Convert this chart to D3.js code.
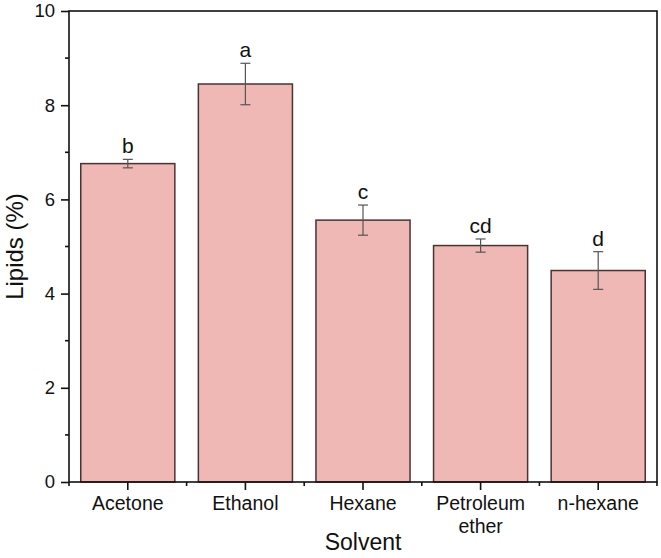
<!DOCTYPE html>
<html>
<head>
<meta charset="utf-8">
<script src="https://cdn.jsdelivr.net/npm/d3@7"></script>
<style>
  body { margin: 0; background: #fff; }
  svg { font-family: "Liberation Sans", Arial, sans-serif; }
</style>
</head>
<body>
<div id="chart"></div>
<script>
const categories = ["Acetone", "Ethanol", "Hexane", "Petroleum ether", "n-hexane"];
const lipids = [6.76, 8.45, 5.56, 5.02, 4.49];
const errors = [0.09, 0.44, 0.32, 0.14, 0.40];
const letters = ["b", "a", "c", "cd", "d"];
const yTicks = [0, 2, 4, 6, 8, 10];

const width = 661;
const height = 558;
const marginTop = 11;
const marginRight = 4;
const marginBottom = 76;
const marginLeft = 69;

const x = d3.scaleBand()
    .domain(categories)
    .range([marginLeft, width - marginRight])
    .paddingInner(0.2)
    .paddingOuter(0.1);

const y = d3.scaleLinear()
    .domain([0, 10])
    .range([height - marginBottom, marginTop]);

const svg = d3.select("#chart")
    .append("svg")
    .attr("width", width)
    .attr("height", height);

// bars
svg.append("g")
    .selectAll("rect")
    .data(categories)
    .join("rect")
    .attr("x", d => x(d))
    .attr("y", (d, i) => y(lipids[i]))
    .attr("width", x.bandwidth())
    .attr("height", (d, i) => y(0) - y(lipids[i]))
    .attr("fill", "#efb8b5")
    .attr("stroke", "#4a3333")
    .attr("stroke-width", 1.5);

// error bars
const err = svg.append("g")
    .attr("stroke", "#555")
    .attr("stroke-width", 1.2);
categories.forEach((c, i) => {
    const cx = x(c) + x.bandwidth() / 2;
    const top = y(lipids[i] + errors[i]);
    const bot = y(lipids[i] - errors[i]);
    err.append("line").attr("x1", cx).attr("x2", cx).attr("y1", top).attr("y2", bot);
    err.append("line").attr("x1", cx - 5).attr("x2", cx + 5).attr("y1", top).attr("y2", top);
    err.append("line").attr("x1", cx - 5).attr("x2", cx + 5).attr("y1", bot).attr("y2", bot);
});

// significance letters
svg.append("g")
    .selectAll("text")
    .data(categories)
    .join("text")
    .attr("x", d => x(d) + x.bandwidth() / 2)
    .attr("y", (d, i) => y(lipids[i] + errors[i]) - 6)
    .attr("text-anchor", "middle")
    .attr("font-size", 21)
    .attr("fill", "#111")
    .text((d, i) => letters[i]);

// frame
svg.append("rect")
    .attr("x", marginLeft)
    .attr("y", marginTop)
    .attr("width", width - marginRight - marginLeft)
    .attr("height", height - marginBottom - marginTop)
    .attr("fill", "none")
    .attr("stroke", "#111")
    .attr("stroke-width", 1.6);

// y axis
const yAxis = svg.append("g")
    .attr("transform", `translate(${marginLeft},0)`)
    .call(d3.axisLeft(y).tickValues(yTicks).tickSize(8).tickPadding(6));
yAxis.select(".domain").remove();
yAxis.selectAll(".tick line").attr("stroke", "#111").attr("stroke-width", 1.6);
yAxis.selectAll(".tick text").attr("font-size", 18.5).attr("fill", "#111")
    .attr("font-family", "Liberation Sans, Arial, sans-serif");

// y minor ticks
svg.append("g")
    .selectAll("line")
    .data(d3.range(1, 10, 2))
    .join("line")
    .attr("x1", marginLeft - 4)
    .attr("x2", marginLeft)
    .attr("y1", d => y(d))
    .attr("y2", d => y(d))
    .attr("stroke", "#111")
    .attr("stroke-width", 1.6);

// x axis
const xAxis = svg.append("g")
    .attr("transform", `translate(0,${height - marginBottom})`)
    .call(d3.axisBottom(x).tickSize(8).tickPadding(6));
xAxis.select(".domain").remove();
xAxis.selectAll(".tick line").attr("stroke", "#111").attr("stroke-width", 1.6);
xAxis.selectAll(".tick text")
    .attr("font-size", 19.5)
    .attr("fill", "#111")
    .attr("font-family", "Liberation Sans, Arial, sans-serif")
    .each(function(d) {
        const t = d3.select(this);
        const words = d === "Petroleum ether" ? ["Petroleum", "ether"] : [d];
        t.text(null);
        words.forEach((w, i) => {
            t.append("tspan").attr("x", 0).attr("dy", i === 0 ? "0.71em" : "1.2em").text(w);
        });
    });

// x minor ticks at category boundaries
svg.append("g")
    .selectAll("line")
    .data(d3.range(categories.length + 1))
    .join("line")
    .attr("x1", i => x.range()[0] + i * x.step())
    .attr("x2", i => x.range()[0] + i * x.step())
    .attr("y1", height - marginBottom)
    .attr("y2", height - marginBottom + 4)
    .attr("stroke", "#111")
    .attr("stroke-width", 1.6);

// axis titles
svg.append("text")
    .attr("x", (marginLeft + width - marginRight) / 2)
    .attr("y", height - 8)
    .attr("text-anchor", "middle")
    .attr("font-size", 23)
    .attr("fill", "#111")
    .text("Solvent");

svg.append("text")
    .attr("transform", `translate(23,${(marginTop + height - marginBottom) / 2}) rotate(-90)`)
    .attr("text-anchor", "middle")
    .attr("font-size", 24)
    .attr("fill", "#111")
    .text("Lipids (%)");
</script>
</body>
</html>
